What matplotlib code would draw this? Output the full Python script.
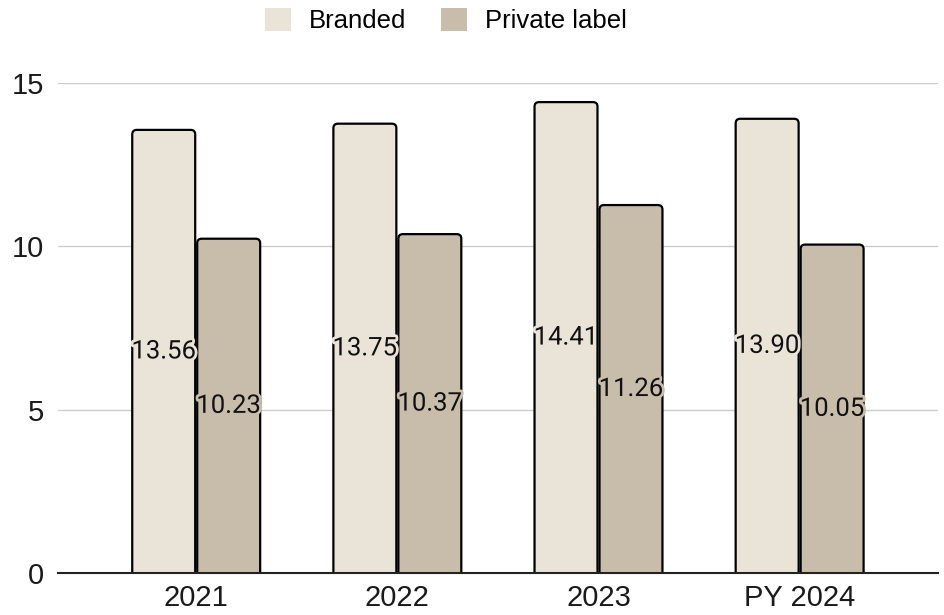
import numpy as np
import matplotlib.pyplot as plt
import matplotlib.patheffects as pe
from matplotlib.patches import FancyBboxPatch, Patch

# branded vs private label values per year
years = ['2021', '2022', '2023', 'PY 2024']
branded = [13.56, 13.75, 14.41, 13.90]
private_label = [10.23, 10.37, 11.26, 10.05]

c_branded = '#EAE4D8'
c_private = '#C8BDAA'

fig = plt.figure(figsize=(9.45, 6.15), dpi=100)
ax = fig.add_axes([0.0614, 0.0683, 0.931, 0.797])

x = np.arange(len(years))
w = 0.313
ax.set_xlim(-0.687, 3.687)
ax.set_ylim(0, 15)

# aspect between data units in y and x so the corner radius stays round
fig.canvas.draw()
bb = ax.get_window_extent()
px_x = bb.width / (ax.get_xlim()[1] - ax.get_xlim()[0])
px_y = bb.height / (ax.get_ylim()[1] - ax.get_ylim()[0])
aspect = px_x / px_y
r = 4.5 / px_x

def rounded_bar(xc, h, color):
    p = FancyBboxPatch((xc - w / 2, -0.5), w, h + 0.5,
                       boxstyle='round,pad=0,rounding_size=%f' % r,
                       mutation_aspect=aspect, fc=color, ec='black',
                       lw=1.6, zorder=3, clip_on=True)
    ax.add_patch(p)

for i in range(len(years)):
    for xc, v, col in [(x[i] - w / 2 - 0.005, branded[i], c_branded),
                       (x[i] + w / 2 + 0.005, private_label[i], c_private)]:
        rounded_bar(xc, v, col)
        ax.text(xc, v / 2, '%.2f' % v, ha='center', va='center',
                fontsize=18.5, family='Roboto', color='#111111', zorder=5,
                path_effects=[pe.withStroke(linewidth=4, foreground=col)])

ax.set_yticks([0, 5, 10, 15])
ax.set_xticks(x)
ax.set_xticklabels(years)
ax.tick_params(axis='both', length=0, labelsize=21, colors='#1a1a1a')
ax.tick_params(axis='y', pad=10)
ax.tick_params(axis='x', pad=8)
for lab in ax.get_xticklabels() + ax.get_yticklabels():
    lab.set_family('Liberation Sans')

ax.grid(axis='y', color='#cccccc', lw=1, zorder=0)
for s in ['top', 'right', 'left']:
    ax.spines[s].set_visible(False)
ax.spines['bottom'].set_color('#222222')
ax.spines['bottom'].set_linewidth(1.5)
ax.spines['bottom'].set_zorder(4)

handles = [Patch(fc=c_branded, ec='none'), Patch(fc=c_private, ec='none')]
fig.legend(handles, ['Branded', 'Private label'], loc='center',
           bbox_to_anchor=(0.472, 0.967), ncol=2, frameon=False,
           prop={'family': 'Liberation Sans', 'size': 18.5},
           handlelength=1.0, handleheight=1.0, handletextpad=0.7,
           columnspacing=1.37)

fig.savefig('out.png', dpi=100)
